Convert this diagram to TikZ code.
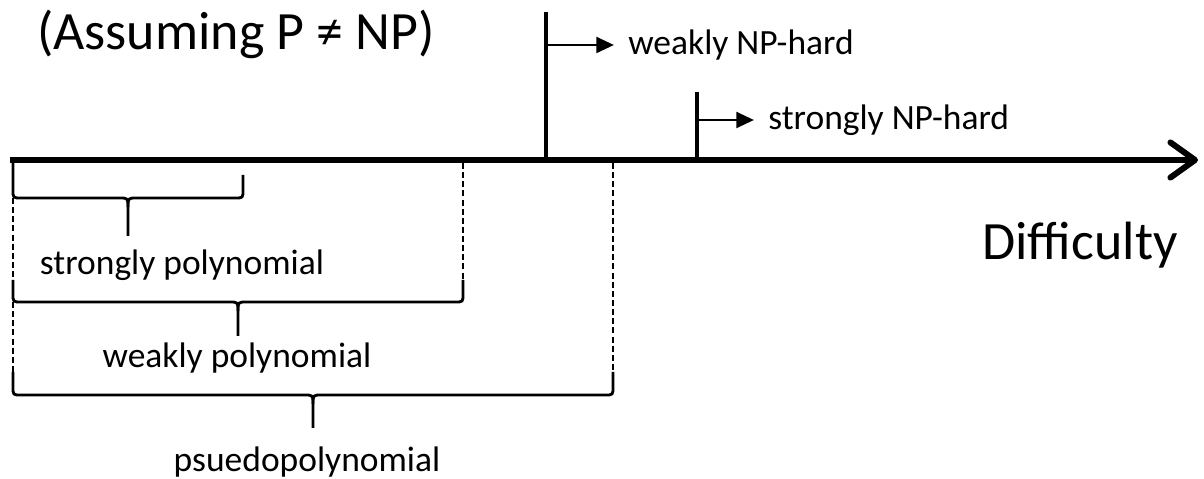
\documentclass[tikz,border=0pt]{standalone}
\usepackage{fontspec}
\setmainfont{Carlito}
\usetikzlibrary{arrows.meta}

\tikzset{
  axisline/.style={line width=3.4pt},
  tickline/.style={line width=2.1pt},
  hardarrow/.style={line width=1.5pt,-{Triangle[length=10pt,width=9pt]},shorten >=8pt},
  bracestyle/.style={line width=1.6pt,line join=round},
  dashline/.style={line width=1.2pt,dash pattern=on 3.4pt off 1.8pt},
  lbl/.style={inner sep=0pt,font=\fontsize{20.2pt}{22pt}\selectfont},
  biglbl/.style={inner sep=0pt,font=\fontsize{30.7pt}{34pt}\selectfont}
}

% square brace with a stem: left x, right x, top y left, top y right, bottom y, stem end y
\newcommand{\polybrace}[6]{%
  \pgfmathsetmacro\bm{(#1+#2)/2}
  \draw[bracestyle] (#1,#3) -- (#1,#5-8) .. controls (#1,#5) .. (#1+8,#5) -- (\bm-9,#5)
        .. controls (\bm,#5) .. (\bm,#5+9) -- (\bm,#6);
  \draw[bracestyle] (#2,#4) -- (#2,#5-8) .. controls (#2,#5) .. (#2-8,#5) -- (\bm+9,#5)
        .. controls (\bm,#5) .. (\bm,#5+9);
}

\begin{document}
\begin{tikzpicture}[x=0.02cm,y=-0.02cm]

   \useasboundingbox (0,0) rectangle (1204,479);

   % axis
   \draw[axisline,-{Straight Barb[length=14pt,width=20pt,round]}] (10,160) -- (1198,160);
   \node[biglbl] (diff) at (1080,245) {Difficulty};
   \node[biglbl] (title) at (236,34) {(Assuming P ≠ NP)};

   % hardness thresholds
   \coordinate (weak) at (546,45);
   \coordinate (strong) at (697,120);
   \draw[tickline] (546,12) -- (546,160);
   \draw[tickline] (697,92) -- (697,160);
   \node[lbl,anchor=west] (wnph) at (628,45) {weakly NP-hard};
   \node[lbl,anchor=west] (snph) at (768,120) {strongly NP-hard};
   \draw[hardarrow] (weak) -- (wnph.west);
   \draw[hardarrow] (strong) -- (snph.west);

   % polynomial classes
   \polybrace{13}{243}{163}{175}{198}{236}
   \polybrace{13}{463}{280}{280}{302}{336}
   \polybrace{13}{613}{372}{372}{395}{428}

   \draw[dashline] (13,198) -- (13,280)  (13,302) -- (13,372);
   \draw[dashline] (463,163) -- (463,280);
   \draw[dashline] (613,163) -- (613,372);

   \node[lbl] (spoly) at (182,265) {strongly polynomial};
   \node[lbl] (wpoly) at (237,358) {weakly polynomial};
   \node[lbl] (ppoly) at (307,462) {psuedopolynomial};

\end{tikzpicture}
\end{document}
